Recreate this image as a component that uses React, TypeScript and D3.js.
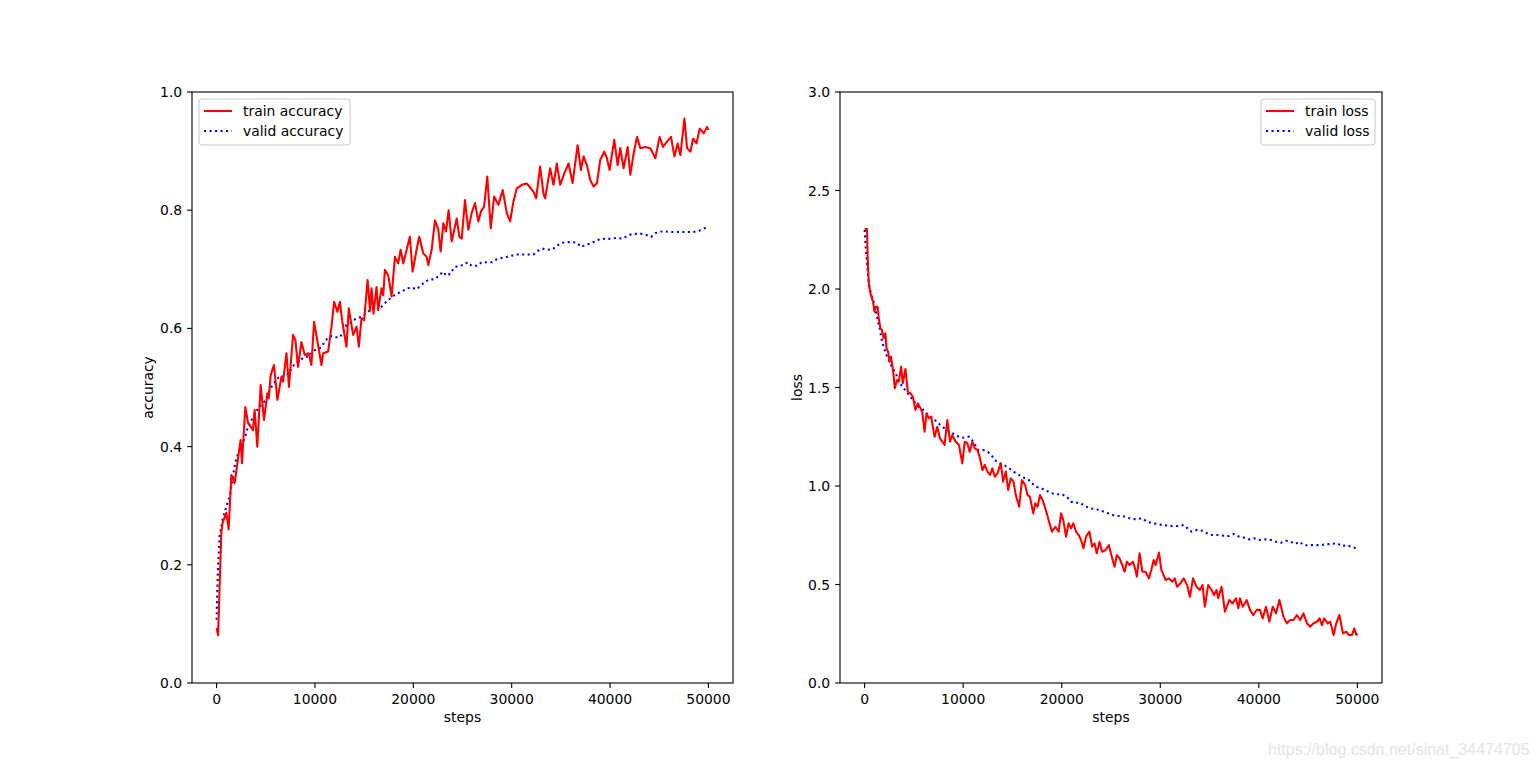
import React from 'react';
import * as d3 from 'd3';

// values, as [step, value]
const trainAcc: [number, number][] = [
  [0, 0.093], [150, 0.081], [480, 0.254], [600, 0.27], [990, 0.288], [1220, 0.26], [1500, 0.352], [1830, 0.338],
  [2440, 0.411], [2580, 0.372], [2920, 0.467], [3200, 0.44], [3700, 0.428], [3870, 0.462], [4140, 0.4], [4480, 0.504],
  [4820, 0.445], [5160, 0.49], [5300, 0.482], [5500, 0.521], [5830, 0.538], [6180, 0.479], [6590, 0.518], [6760, 0.51],
  [7100, 0.558], [7360, 0.501], [7770, 0.589], [8010, 0.58], [8280, 0.535], [8620, 0.577], [8960, 0.555], [9370, 0.558],
  [9640, 0.538], [9910, 0.611], [10320, 0.572], [10660, 0.538], [10830, 0.558], [11340, 0.561], [11680, 0.603],
  [11950, 0.645], [12290, 0.628], [12530, 0.645], [12760, 0.614], [13200, 0.569], [13440, 0.634], [13880, 0.589],
  [14230, 0.603], [14460, 0.569], [14730, 0.617], [15000, 0.614], [15350, 0.682], [15600, 0.63], [15750, 0.668],
  [15950, 0.625], [16260, 0.67], [16430, 0.631], [16770, 0.668], [16940, 0.656], [17110, 0.699], [17450, 0.69],
  [17790, 0.654], [18130, 0.721], [18460, 0.71], [18710, 0.733], [18980, 0.71], [19320, 0.733], [19650, 0.755],
  [19930, 0.696], [20330, 0.733], [20600, 0.755], [21010, 0.727], [21350, 0.721], [21520, 0.707], [21860, 0.733],
  [22200, 0.783], [22540, 0.767], [22780, 0.73], [23050, 0.778], [23320, 0.764], [23590, 0.8], [23900, 0.747],
  [24410, 0.786], [24680, 0.755], [24920, 0.752], [25250, 0.817], [25590, 0.767], [25930, 0.795], [26270, 0.812],
  [26610, 0.781], [26880, 0.798], [27190, 0.806], [27520, 0.857], [27870, 0.769], [28210, 0.823], [28650, 0.809],
  [29090, 0.834], [29500, 0.795], [29840, 0.781], [30170, 0.814], [30520, 0.837], [31030, 0.843], [31540, 0.845],
  [31810, 0.84], [32220, 0.831], [32490, 0.82], [32890, 0.874], [33230, 0.828], [33400, 0.82], [33910, 0.871],
  [34250, 0.843], [34590, 0.879], [34930, 0.843], [35340, 0.862], [35780, 0.879], [36190, 0.846], [36700, 0.91],
  [37040, 0.868], [37310, 0.891], [37650, 0.876], [37990, 0.851], [38320, 0.84], [38670, 0.846], [39000, 0.885],
  [39410, 0.899], [39680, 0.888], [39950, 0.868], [40430, 0.919], [40770, 0.876], [41040, 0.905], [41380, 0.871],
  [41790, 0.907], [42060, 0.86], [42400, 0.896], [42740, 0.924], [43080, 0.905], [43580, 0.907], [44090, 0.905],
  [44600, 0.888], [45040, 0.924], [45380, 0.907], [45790, 0.916], [46200, 0.924], [46540, 0.891], [46870, 0.913],
  [47150, 0.893], [47560, 0.955], [47830, 0.905], [48170, 0.899], [48440, 0.921], [48780, 0.913], [49120, 0.938],
  [49520, 0.93], [49870, 0.941], [50000, 0.936],
];

const validAcc: [number, number][] = [
  [0, 0.107], [130, 0.19], [300, 0.248], [640, 0.279], [990, 0.298], [1320, 0.315], [1560, 0.338], [1760, 0.36],
  [2000, 0.38], [2340, 0.394], [2680, 0.408], [2920, 0.417], [3190, 0.434], [3460, 0.442], [3770, 0.452], [4280, 0.466],
  [4720, 0.473], [5000, 0.48], [5230, 0.489], [5500, 0.499], [6080, 0.513], [6420, 0.519], [7100, 0.519], [7430, 0.527],
  [8010, 0.542], [8550, 0.547], [8960, 0.552], [9470, 0.553], [9810, 0.562], [10250, 0.565], [10660, 0.568],
  [10930, 0.576], [11280, 0.583], [11680, 0.587], [12190, 0.585], [12530, 0.585], [12860, 0.593], [13200, 0.606],
  [13540, 0.609], [13880, 0.614], [14330, 0.617], [14730, 0.62], [15250, 0.626], [15680, 0.632], [16090, 0.637],
  [16530, 0.632], [16940, 0.64], [17450, 0.648], [17890, 0.654], [18360, 0.659], [18910, 0.663], [19380, 0.668],
  [19890, 0.669], [20330, 0.666], [20740, 0.672], [21180, 0.679], [21690, 0.683], [22100, 0.683], [22640, 0.689],
  [22990, 0.696], [23390, 0.689], [23800, 0.693], [24130, 0.703], [24580, 0.706], [25080, 0.707], [25530, 0.712],
  [25930, 0.706], [26440, 0.706], [26950, 0.712], [27460, 0.712], [27970, 0.712], [28480, 0.717], [28990, 0.719],
  [29500, 0.721], [30000, 0.723], [30580, 0.725], [31130, 0.725], [31700, 0.725], [32210, 0.725], [32650, 0.731],
  [33120, 0.735], [33640, 0.733], [34180, 0.734], [34590, 0.74], [35100, 0.745], [35610, 0.746], [36120, 0.746],
  [36630, 0.745], [37040, 0.738], [37550, 0.741], [38060, 0.744], [38570, 0.748], [39080, 0.752], [39590, 0.751],
  [40120, 0.752], [40630, 0.753], [41210, 0.752], [41720, 0.756], [42230, 0.76], [42740, 0.76], [43250, 0.76],
  [43690, 0.758], [44170, 0.755], [44600, 0.761], [45110, 0.764], [45720, 0.764], [46230, 0.763], [46810, 0.763],
  [47320, 0.763], [47890, 0.763], [48440, 0.763], [49010, 0.765], [49520, 0.769], [50000, 0.772],
];

const trainLoss: [number, number][] = [
  [0, 2.305], [240, 2.305], [300, 2.173], [410, 2.037], [580, 1.978], [850, 1.936], [990, 1.885], [1150, 1.91],
  [1320, 1.91], [1430, 1.851], [1600, 1.8], [1760, 1.792], [1930, 1.75], [2110, 1.775], [2210, 1.699], [2380, 1.682],
  [2520, 1.631], [2680, 1.657], [2880, 1.589], [3060, 1.496], [3290, 1.538], [3460, 1.529], [3700, 1.606], [3870, 1.521],
  [4140, 1.594], [4380, 1.479], [4650, 1.47], [4890, 1.453], [5160, 1.386], [5400, 1.42], [5670, 1.394], [5840, 1.377],
  [6080, 1.276], [6280, 1.368], [6520, 1.344], [6750, 1.352], [7100, 1.25], [7370, 1.301], [7640, 1.242], [7880, 1.225],
  [8110, 1.208], [8390, 1.335], [8660, 1.225], [8890, 1.259], [9240, 1.225], [9570, 1.208], [9910, 1.115], [10160, 1.225],
  [10420, 1.217], [10660, 1.174], [10930, 1.225], [11170, 1.191], [11450, 1.183], [11710, 1.14], [11950, 1.081],
  [12190, 1.107], [12460, 1.073], [12730, 1.056], [12960, 1.09], [13210, 1.047], [13480, 1.064], [13820, 1.115],
  [14050, 1.022], [14330, 1.073], [14560, 0.98], [14830, 1.039], [15100, 1.022], [15340, 0.954], [15680, 0.895],
  [15960, 1.03], [16290, 1.005], [16530, 0.954], [16770, 0.946], [17110, 0.861], [17310, 0.912], [17550, 0.895],
  [17790, 0.954], [18060, 0.929], [18330, 0.887], [18670, 0.827], [19010, 0.768], [19350, 0.793], [19690, 0.768],
  [19930, 0.861], [20160, 0.827], [20440, 0.743], [20700, 0.811], [20950, 0.785], [21180, 0.811], [21450, 0.768],
  [21720, 0.751], [21960, 0.726], [22200, 0.684], [22470, 0.743], [22810, 0.768], [23080, 0.692], [23320, 0.709],
  [23560, 0.658], [23830, 0.717], [24100, 0.666], [24440, 0.675], [24780, 0.7], [25120, 0.633], [25360, 0.59],
  [25590, 0.65], [25870, 0.633], [26140, 0.599], [26380, 0.565], [26610, 0.616], [26880, 0.599], [27220, 0.616],
  [27390, 0.59], [27630, 0.54], [27900, 0.658], [28180, 0.565], [28510, 0.565], [28850, 0.531], [29090, 0.574],
  [29330, 0.624], [29530, 0.599], [29870, 0.662], [30110, 0.574], [30550, 0.523], [30890, 0.531], [31230, 0.514],
  [31470, 0.531], [31700, 0.489], [32050, 0.506], [32380, 0.531], [32720, 0.497], [33000, 0.438], [33330, 0.531],
  [33670, 0.489], [34010, 0.472], [34290, 0.497], [34520, 0.387], [34860, 0.497], [35210, 0.472], [35440, 0.447],
  [35710, 0.472], [35880, 0.43], [36220, 0.489], [36560, 0.362], [37000, 0.421], [37340, 0.404], [37680, 0.43],
  [37920, 0.379], [38090, 0.43], [38360, 0.387], [38770, 0.421], [39100, 0.371], [39440, 0.345], [39780, 0.371],
  [40120, 0.371], [40390, 0.328], [40730, 0.387], [41070, 0.311], [41410, 0.387], [41750, 0.354], [42090, 0.421],
  [42500, 0.337], [42840, 0.303], [43180, 0.32], [43520, 0.32], [43860, 0.345], [44200, 0.32], [44530, 0.354],
  [44880, 0.303], [45210, 0.286], [45550, 0.303], [45890, 0.311], [46160, 0.328], [46400, 0.294], [46640, 0.328],
  [46980, 0.303], [47250, 0.311], [47590, 0.244], [47860, 0.303], [48170, 0.345], [48540, 0.252], [48880, 0.261],
  [49110, 0.244], [49460, 0.244], [49690, 0.277], [49900, 0.244], [50000, 0.252],
];

const validLoss: [number, number][] = [
  [0, 2.3], [70, 2.24], [140, 2.19], [240, 2.13], [340, 2.071], [440, 2.02], [580, 1.99], [750, 1.961], [920, 1.932],
  [1150, 1.885], [1360, 1.834], [1530, 1.8], [1700, 1.75], [1860, 1.719], [2040, 1.69], [2210, 1.665], [2440, 1.64],
  [2680, 1.614], [2950, 1.589], [3230, 1.563], [3560, 1.521], [3970, 1.496], [4380, 1.47], [4720, 1.448], [5060, 1.425],
  [5500, 1.403], [5840, 1.391], [6280, 1.369], [6620, 1.352], [7030, 1.34], [7370, 1.323], [7770, 1.306], [8210, 1.289],
  [8720, 1.272], [9240, 1.259], [9670, 1.247], [10150, 1.245], [10590, 1.25], [11030, 1.225], [11510, 1.183],
  [12050, 1.183], [12560, 1.171], [12970, 1.149], [13310, 1.128], [13750, 1.115], [14230, 1.103], [14660, 1.09],
  [15100, 1.073], [15580, 1.059], [16020, 1.044], [16530, 1.036], [16970, 1.014], [17440, 0.996], [17950, 0.988],
  [18460, 0.976], [18970, 0.963], [19480, 0.958], [20030, 0.958], [20500, 0.946], [20950, 0.92], [21390, 0.915],
  [21860, 0.915], [22370, 0.898], [22880, 0.887], [23420, 0.882], [23900, 0.878], [24410, 0.866], [24920, 0.858],
  [25460, 0.848], [26040, 0.848], [26550, 0.844], [27060, 0.832], [27630, 0.832], [28180, 0.836], [28650, 0.819],
  [29160, 0.811], [29670, 0.807], [30210, 0.802], [30720, 0.799], [31230, 0.797], [31800, 0.797], [32380, 0.802],
  [32760, 0.785], [33160, 0.768], [33740, 0.777], [34250, 0.773], [34760, 0.76], [35270, 0.751], [35780, 0.751],
  [36390, 0.748], [36960, 0.746], [37470, 0.756], [37980, 0.743], [38490, 0.738], [39030, 0.729], [39540, 0.734],
  [40120, 0.726], [40700, 0.729], [41240, 0.726], [41750, 0.717], [42260, 0.712], [42770, 0.722], [43250, 0.717],
  [43690, 0.706], [44120, 0.717], [44600, 0.699], [45140, 0.7], [45720, 0.7], [46300, 0.7], [46840, 0.704],
  [47420, 0.706], [47930, 0.709], [48440, 0.695], [48950, 0.7], [49460, 0.689], [50000, 0.684],
];

const xTicks = [0, 10000, 20000, 30000, 40000, 50000];
const accTicks = [0, 0.2, 0.4, 0.6, 0.8, 1.0];
const lossTicks = [0, 0.5, 1.0, 1.5, 2.0, 2.5, 3.0];

const FONT = '"DejaVu Sans", sans-serif';
const FS = 13.9;
const TOP = 92;
const BOTTOM = 683;
const TICK = 4.9;

type PanelProps = {
  x0: number;
  x1: number;
  train: [number, number][];
  valid: [number, number][];
  yTicks: number[];
  yMax: number;
  yLabel: string;
  yLabelX: number;
  legend: [string, string];
  legendX: number;
  legendW: number;
};

function Panel(p: PanelProps) {
  const x = d3.scaleLinear().domain([-2500, 52500]).range([p.x0, p.x1]);
  const y = d3.scaleLinear().domain([0, p.yMax]).range([BOTTOM, TOP]);
  const line = d3.line<[number, number]>().x(d => x(d[0])).y(d => y(d[1]));
  const fmt = d3.format('.1f');

  return (
    <g fontFamily={FONT} fontSize={FS}>
      <path d={line(p.valid) || ''} fill="none" stroke="#0000ff" strokeWidth={2.08} strokeDasharray="2.08 3.44" />
      <path d={line(p.train) || ''} fill="none" stroke="#ff0000" strokeWidth={2.08} strokeLinejoin="round" />
      <rect x={p.x0} y={TOP} width={p.x1 - p.x0} height={BOTTOM - TOP} fill="none" stroke="#000" strokeWidth={1.1} />

      {xTicks.map(t => (
        <g key={'x' + t}>
          <line x1={x(t)} x2={x(t)} y1={BOTTOM} y2={BOTTOM + TICK} stroke="#000" strokeWidth={1.1} />
          <text x={x(t)} y={BOTTOM + TICK + 4.9 + 11} textAnchor="middle">{t}</text>
        </g>
      ))}
      {p.yTicks.map(t => (
        <g key={'y' + t}>
          <line x1={p.x0 - TICK} x2={p.x0} y1={y(t)} y2={y(t)} stroke="#000" strokeWidth={1.1} />
          <text x={p.x0 - TICK - 4.9} y={y(t) + 5} textAnchor="end">{fmt(t)}</text>
        </g>
      ))}

      <text x={(p.x0 + p.x1) / 2} y={722} textAnchor="middle">steps</text>
      <text transform={`translate(${p.yLabelX},${(TOP + BOTTOM) / 2}) rotate(-90)`} textAnchor="middle" dy={5}>
        {p.yLabel}
      </text>

      <g transform={`translate(${p.legendX},99)`}>
        <rect width={p.legendW} height={46} rx={2.8} fill="#fff" fillOpacity={0.8} stroke="#cccccc" strokeWidth={1.1} />
        <line x1={5} x2={33} y1={12} y2={12} stroke="#ff0000" strokeWidth={2.08} />
        <line x1={5} x2={33} y1={32} y2={32} stroke="#0000ff" strokeWidth={2.08} strokeDasharray="2.08 3.44" />
        <text x={44} y={17}>{p.legend[0]}</text>
        <text x={44} y={37}>{p.legend[1]}</text>
      </g>
    </g>
  );
}

export default function App() {
  return (
    <svg width={1536} height={767} style={{ position: 'absolute', left: 0, top: 0, background: '#fff' }}>
      <rect width={1536} height={767} fill="#fff" />
      <Panel
        x0={192} x1={733} train={trainAcc} valid={validAcc} yTicks={accTicks} yMax={1}
        yLabel="accuracy" yLabelX={148} legend={['train accuracy', 'valid accuracy']} legendX={199} legendW={151}
      />
      <Panel
        x0={840} x1={1382} train={trainLoss} valid={validLoss} yTicks={lossTicks} yMax={3}
        yLabel="loss" yLabelX={797} legend={['train loss', 'valid loss']} legendX={1261} legendW={114}
      />
      <text x={1268} y={755} fontFamily='"Liberation Sans", Arial, sans-serif' fontSize={16} fill="#e4e4e4">
        https://blog.csdn.net/sinat_34474705
      </text>
    </svg>
  );
}
